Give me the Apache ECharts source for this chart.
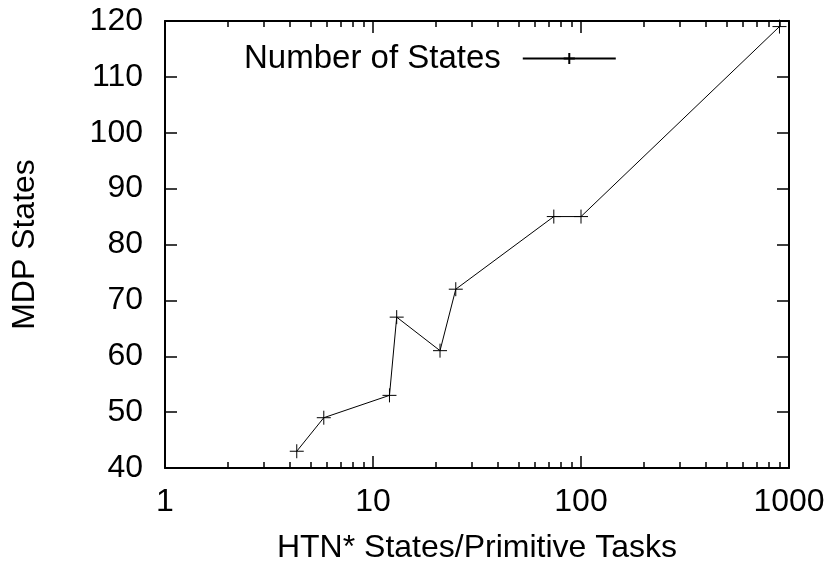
<!DOCTYPE html>
<html>
<head>
<meta charset="utf-8">
<script src="https://cdn.jsdelivr.net/npm/echarts@6/dist/echarts.min.js"></script>
<style>
  html, body { margin: 0; padding: 0; background: #fff; }
  #main { width: 835px; height: 569px; }
</style>
</head>
<body>
<div id="main"></div>
<script>
// HTN* states / primitive tasks (x) against MDP states (y)
var htnStates = [4.3, 5.8, 12, 13, 21, 25, 74, 100, 900];
var mdpStates = [43, 49, 53, 67, 61, 72, 85, 85, 119];
var seriesName = 'Number of States';
var xMajorTicks = [1, 10, 100, 1000];
var xMinorTicks = [2, 3, 4, 5, 6, 7, 8, 9, 20, 30, 40, 50, 60, 70, 80, 90, 200, 300, 400, 500, 600, 700, 800, 900];

var font = 'Liberation Sans, Arial, Helvetica, sans-serif';
var plusIcon = 'path://M0,7L14,7M7,0L7,14';

var chart = echarts.init(document.getElementById('main'));

function logAxis(pos, ticks, len, showLine, showLabel) {
  return {
    type: 'log',
    logBase: 10,
    min: 1,
    max: 1000,
    position: pos,
    name: (pos === 'bottom' && showLabel) ? 'HTN* States/Primitive Tasks' : '',
    nameLocation: 'middle',
    nameGap: 64,
    nameTextStyle: { fontFamily: font, fontSize: 32, color: '#000' },
    axisLine: { show: showLine, onZero: false, lineStyle: { color: '#000', width: 2 } },
    axisTick: { show: true, inside: true, length: len, customValues: ticks, lineStyle: { color: '#000', width: 1.5 } },
    axisLabel: {
      show: showLabel,
      customValues: xMajorTicks,
      margin: 18,
      fontFamily: font,
      fontSize: 32,
      color: '#000',
      formatter: function (v) { return String(v); }
    },
    splitLine: { show: false },
    minorTick: { show: false }
  };
}

function valAxis(pos, showLabel) {
  return {
    type: 'value',
    min: 40,
    max: 120,
    interval: 10,
    position: pos,
    name: showLabel ? 'MDP States' : '',
    nameLocation: 'middle',
    nameGap: 124,
    nameTextStyle: { fontFamily: font, fontSize: 32, color: '#000' },
    axisLine: { show: true, onZero: false, lineStyle: { color: '#000', width: 2 } },
    axisTick: { show: true, inside: true, length: 12, lineStyle: { color: '#000', width: 1.5 } },
    axisLabel: { show: showLabel, margin: 22, fontFamily: font, fontSize: 32, color: '#000' },
    splitLine: { show: false }
  };
}

var option = {
  backgroundColor: '#fff',
  animation: false,
  grid: { left: 165, right: 46, top: 21, bottom: 99 },
  legend: {
    left: 239,
    top: 37,
    align: 'right',
    itemWidth: 93,
    itemHeight: 14,
    data: [seriesName],
    textStyle: { fontFamily: font, fontSize: 33, color: '#000', padding: [0, 17, 0, 0] }
  },
  xAxis: [
    logAxis('bottom', xMajorTicks, 12, true, true),
    logAxis('bottom', xMinorTicks, 6, false, false),
    logAxis('top', xMajorTicks, 12, true, false),
    logAxis('top', xMinorTicks, 6, false, false)
  ],
  yAxis: [
    valAxis('left', true),
    valAxis('right', false)
  ],
  series: [{
    name: seriesName,
    type: 'line',
    xAxisIndex: 0,
    yAxisIndex: 0,
    data: htnStates.map(function (x, i) { return [x, mdpStates[i]]; }),
    symbol: plusIcon,
    symbolSize: 14,
    lineStyle: { color: '#000', width: 1 },
    itemStyle: { color: '#000', borderColor: '#000', borderWidth: 1 }
  }]
};

chart.setOption(option);
</script>
</body>
</html>
